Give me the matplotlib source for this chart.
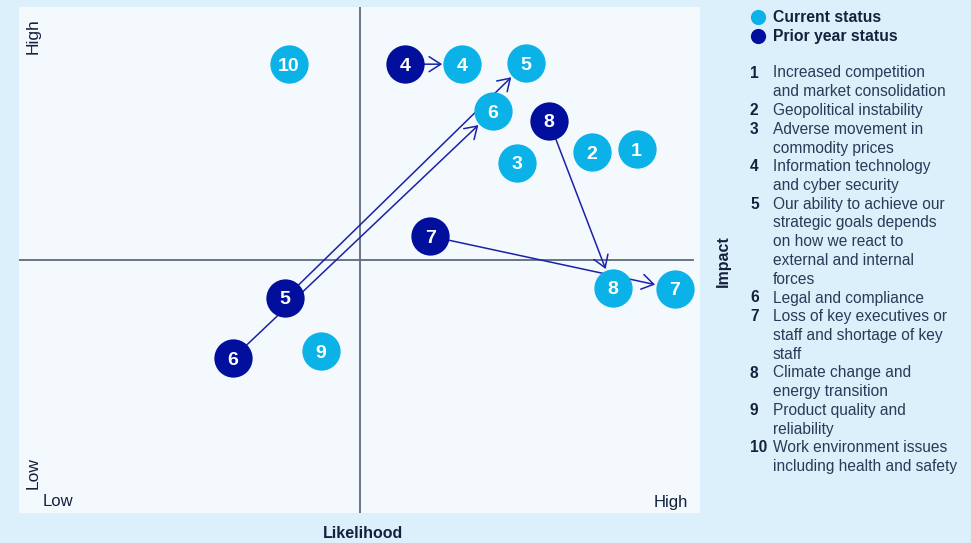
import matplotlib
matplotlib.use("Agg")
import matplotlib.pyplot as plt

plt.rcParams['font.family'] = ['Liberation Sans', 'DejaVu Sans']

# Risk positions on a 0-10 likelihood / impact grid
risk_ids = [1, 2, 3, 4, 5, 6, 7, 8, 9, 10]
current_likelihood = [9.07, 8.41, 7.31, 6.51, 7.44, 6.96, 9.63, 8.72, 4.43, 3.96]
current_impact = [7.19, 7.13, 6.92, 8.87, 8.89, 7.94, 4.43, 4.45, 3.20, 8.87]

prior_ids = [4, 5, 6, 7, 8]
prior_likelihood = [5.67, 3.91, 3.14, 6.04, 7.78]
prior_impact = [8.87, 4.25, 3.06, 5.47, 7.75]

risk_names = [
    ["Increased competition", "and market consolidation"],
    ["Geopolitical instability"],
    ["Adverse movement in", "commodity prices"],
    ["Information technology", "and cyber security"],
    ["Our ability to achieve our", "strategic goals depends", "on how we react to",
     "external and internal", "forces"],
    ["Legal and compliance"],
    ["Loss of key executives or", "staff and shortage of key", "staff"],
    ["Climate change and", "energy transition"],
    ["Product quality and", "reliability"],
    ["Work environment issues", "including health and safety"],
]

legend_labels = ["Current status", "Prior year status"]

CURRENT = "#0ab2e8"
PRIOR = "#010f9c"
ARROW = "#1a22a8"
DARK = "#14213d"
TEXT = "#2a3a58"
FIG_BG = "#dcf0fb"
AX_BG = "#f4f9fe"
GRID = "#5d6b7e"

W, H = 971, 543
fig = plt.figure(figsize=(W / 100, H / 100), dpi=100, facecolor=FIG_BG)

ax = fig.add_axes([19 / W, 1 - 513 / H, (700 - 19) / W, (513 - 7) / H])
ax.set_facecolor(AX_BG)
ax.set_xlim(0, 10)
ax.set_ylim(0, 10)
for s in ax.spines.values():
    s.set_visible(False)
ax.set_xticks([])
ax.set_yticks([])

# overlay in pixel units for labels and the side legend, drawn on top
ov = fig.add_axes([0, 0, 1, 1])
ov.set_xlim(0, W)
ov.set_ylim(H, 0)
ov.axis("off")
ov.set_zorder(5)

# quadrant dividers
ax.axvline(5, color=GRID, lw=1.3, zorder=1)
ax.plot([0, 9.9], [5, 5], color=GRID, lw=1.3, zorder=1)

marker_s = 760

# movement arrows from prior year to current position
for pid, px_, py_ in zip(prior_ids, prior_likelihood, prior_impact):
    i = risk_ids.index(pid)
    ax.annotate("", xy=(current_likelihood[i], current_impact[i]), xytext=(px_, py_),
                arrowprops=dict(arrowstyle="->,head_length=0.7,head_width=0.45",
                                color=ARROW, lw=1.1, shrinkA=13.5, shrinkB=14.5,
                                mutation_scale=12),
                zorder=2)

ax.scatter(prior_likelihood, prior_impact, s=marker_s, color=PRIOR, zorder=3,
           linewidths=0)
ax.scatter(current_likelihood, current_impact, s=marker_s, color=CURRENT, zorder=3,
           linewidths=0)

for rid, x, y in zip(prior_ids, prior_likelihood, prior_impact):
    ax.text(x, y, str(rid), color="white", fontsize=14, fontweight="bold",
            ha="center", va="center_baseline", zorder=4)
for rid, x, y in zip(risk_ids, current_likelihood, current_impact):
    ax.text(x, y, str(rid), color="white", fontsize=14, fontweight="bold",
            ha="center", va="center_baseline", zorder=4)

# axis end labels
ov.text(33, 36, "High", rotation=90, ha="center", va="center", fontsize=12.5, color=DARK)
ov.text(33, 473, "Low", rotation=90, ha="center", va="center", fontsize=12.5, color=DARK)
ov.text(43, 502, "Low", ha="left", va="center", fontsize=12, color=DARK)
ov.text(688, 502, "High", ha="right", va="center", fontsize=12, color=DARK)
ov.text(363, 534, "Likelihood", ha="center", va="center", fontsize=11.5,
        fontweight="bold", color=DARK)
ov.text(723, 261, "Impact", rotation=90, ha="center", va="center",
        fontsize=11.5, fontweight="bold", color=DARK)

# status legend
for k, (lab, col) in enumerate(zip(legend_labels, [CURRENT, PRIOR])):
    yy = 17 + k * 19
    ov.scatter([758], [yy], s=120, color=col, linewidths=0)
    ov.text(773, yy, lab, ha="left", va="center", fontsize=11.3,
            fontweight="bold", color=DARK)

# numbered risk list
line_h = 18.75
yy = 73
for rid, lines in zip(risk_ids, risk_names):
    ov.text(750, yy, str(rid), ha="left", va="center", fontsize=11.2,
            fontweight="bold", color=DARK)
    for ln in lines:
        ov.text(773, yy, ln, ha="left", va="center", fontsize=11.2, color=TEXT)
        yy += line_h

fig.savefig("out.png", dpi=100, facecolor=FIG_BG)
